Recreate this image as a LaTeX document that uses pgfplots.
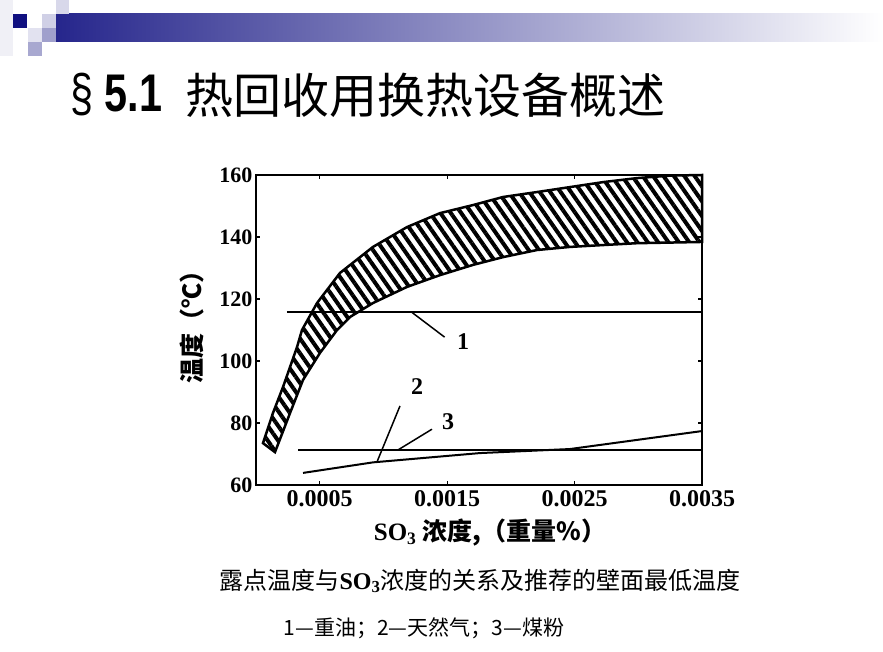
\documentclass[border=0pt]{standalone}
\usepackage{fontspec}
\setmainfont{Liberation Serif}
\newfontfamily\sansf{Liberation Sans}
\newfontfamily\cjk{Noto Sans CJK SC}
\usepackage{pgfplots}
\pgfplotsset{compat=1.18}
\usetikzlibrary{patterns.meta}
\definecolor{navy}{RGB}{16,16,128}
\definecolor{barl}{RGB}{38,38,140}
\definecolor{sqa}{RGB}{208,208,230}
\definecolor{sqb}{RGB}{216,216,234}
\definecolor{sqc}{RGB}{160,160,204}
\definecolor{sqd}{RGB}{168,168,208}
\definecolor{sqe}{RGB}{226,226,240}
\definecolor{sqf}{RGB}{240,240,246}
\begin{document}
\begin{tikzpicture}[x=1pt,y=1pt]
\fill[white] (0,0) rectangle (883,651);
\path[use as bounding box] (0,0) rectangle (883,651);
% header decoration
\fill[sqf] (0,595) rectangle (13,651);
\shade[left color=barl, right color=white] (56,609) rectangle (883,637);
\fill[navy] (13,623) rectangle (27,637);
\fill[sqa] (42,623) rectangle (56,637);
\fill[sqb] (56,637) rectangle (69,651);
\fill[sqc] (42,609) rectangle (56,623);
\fill[sqd] (28,595) rectangle (42,609);
\fill[sqe] (28,609) rectangle (42,623);
% title
\node[anchor=west, inner sep=0pt, xscale=0.78] at (70,556) {\fontsize{53}{53}\selectfont\sansf \S\ \textbf{5.1}};
\node[anchor=west, inner sep=0pt] at (185,556) {\fontsize{48}{48}\selectfont\cjk 热回收用换热设备概述};
\begin{axis}[
  at={(256pt,166pt)}, anchor=south west,
  scale only axis, width=446pt, height=310pt,
  xmin=0, xmax=0.0035, ymin=60, ymax=160,
  scaled x ticks=false,
  xtick={0.0005,0.0015,0.0025,0.0035},
  xticklabels={0.0005,0.0015,0.0025,0.0035},
  ytick={60,80,100,120,140,160},
  yticklabels={60,80,100,120,140,160},
  tick align=inside, major tick length=4pt,
  tick style={line width=1.2pt, black},
  axis line style={line width=1.8pt},
  xticklabel style={font=\fontsize{24}{24}\selectfont\bfseries, yshift=-2pt},
  yticklabel style={font=\fontsize{22}{22}\selectfont\bfseries},
  clip=false,
]
\addplot[draw=black, line width=2.5pt, pattern={Lines[angle=-55,distance=8.5pt,line width=4pt]}] coordinates {
(0.000055,73.5) (0.000133,83.2) (0.000212,91.6) (0.000322,104.5) (0.000361,110)
(0.000479,118.7) (0.000659,128.4) (0.000918,136.8) (0.001185,143.2) (0.001444,147.7)
(0.001703,150.3) (0.001938,152.9) (0.002205,154.5) (0.002464,156.1) (0.002723,157.7)
(0.00299,159) (0.003249,159.8) (0.0035,160)
(0.0035,138.4) (0.00299,138) (0.002723,137.4) (0.002464,136.8) (0.002205,135.8)
(0.001938,133.5) (0.001703,131) (0.001444,127.7) (0.001185,123.9) (0.000918,118.7)
(0.000738,114.2) (0.000636,110) (0.000502,102.6) (0.000369,93.9) (0.000267,83.2)
(0.000149,70.6)
} -- cycle;
% line 1
\addplot[black, line width=2pt] coordinates {(0.000243,115.8) (0.0035,115.8)};
% horizontal low line
\addplot[black, line width=2pt] coordinates {(0.00033,71.3) (0.0035,71.3)};
% rising low line
\addplot[black, line width=2pt] coordinates {(0.000369,63.9) (0.000918,67.3) (0.001758,70.3) (0.002464,71.6) (0.0035,77.4)};
% leaders
\draw[line width=1.5pt] (axis cs:0.00122,115.8) -- (axis cs:0.00148,107.7);
\draw[line width=1.5pt] (axis cs:0.00095,67.5) -- (axis cs:0.00113,85.5);
\draw[line width=1.5pt] (axis cs:0.001114,71.3) -- (axis cs:0.001381,78);
\node[font=\fontsize{24}{24}\selectfont\bfseries] at (axis cs:0.001625,106.3) {1};
\node[font=\fontsize{24}{24}\selectfont\bfseries] at (axis cs:0.001264,91.6) {2};
\node[font=\fontsize{24}{24}\selectfont\bfseries] at (axis cs:0.001507,80.3) {3};
\end{axis}
% axis labels
\node[rotate=90, inner sep=0pt] at (192,330) {\fontsize{25}{25}\selectfont\cjk\bfseries 温度（℃）};
\node[inner sep=0pt] at (490,118) {\fontsize{25}{25}\selectfont{\bfseries SO\textsubscript{3}}\ {\cjk\bfseries 浓度,（重量\%）}};
% caption
\node[inner sep=0pt] at (480,70) {\fontsize{24}{24}\selectfont\cjk 露点温度与{\bfseries\rmfamily SO\textsubscript{3}}浓度的关系及推荐的壁面最低温度};
\node[inner sep=0pt] at (424,23) {\fontsize{21}{21}\selectfont\cjk 1—重油；2—天然气；3—煤粉};
\end{tikzpicture}
\end{document}
